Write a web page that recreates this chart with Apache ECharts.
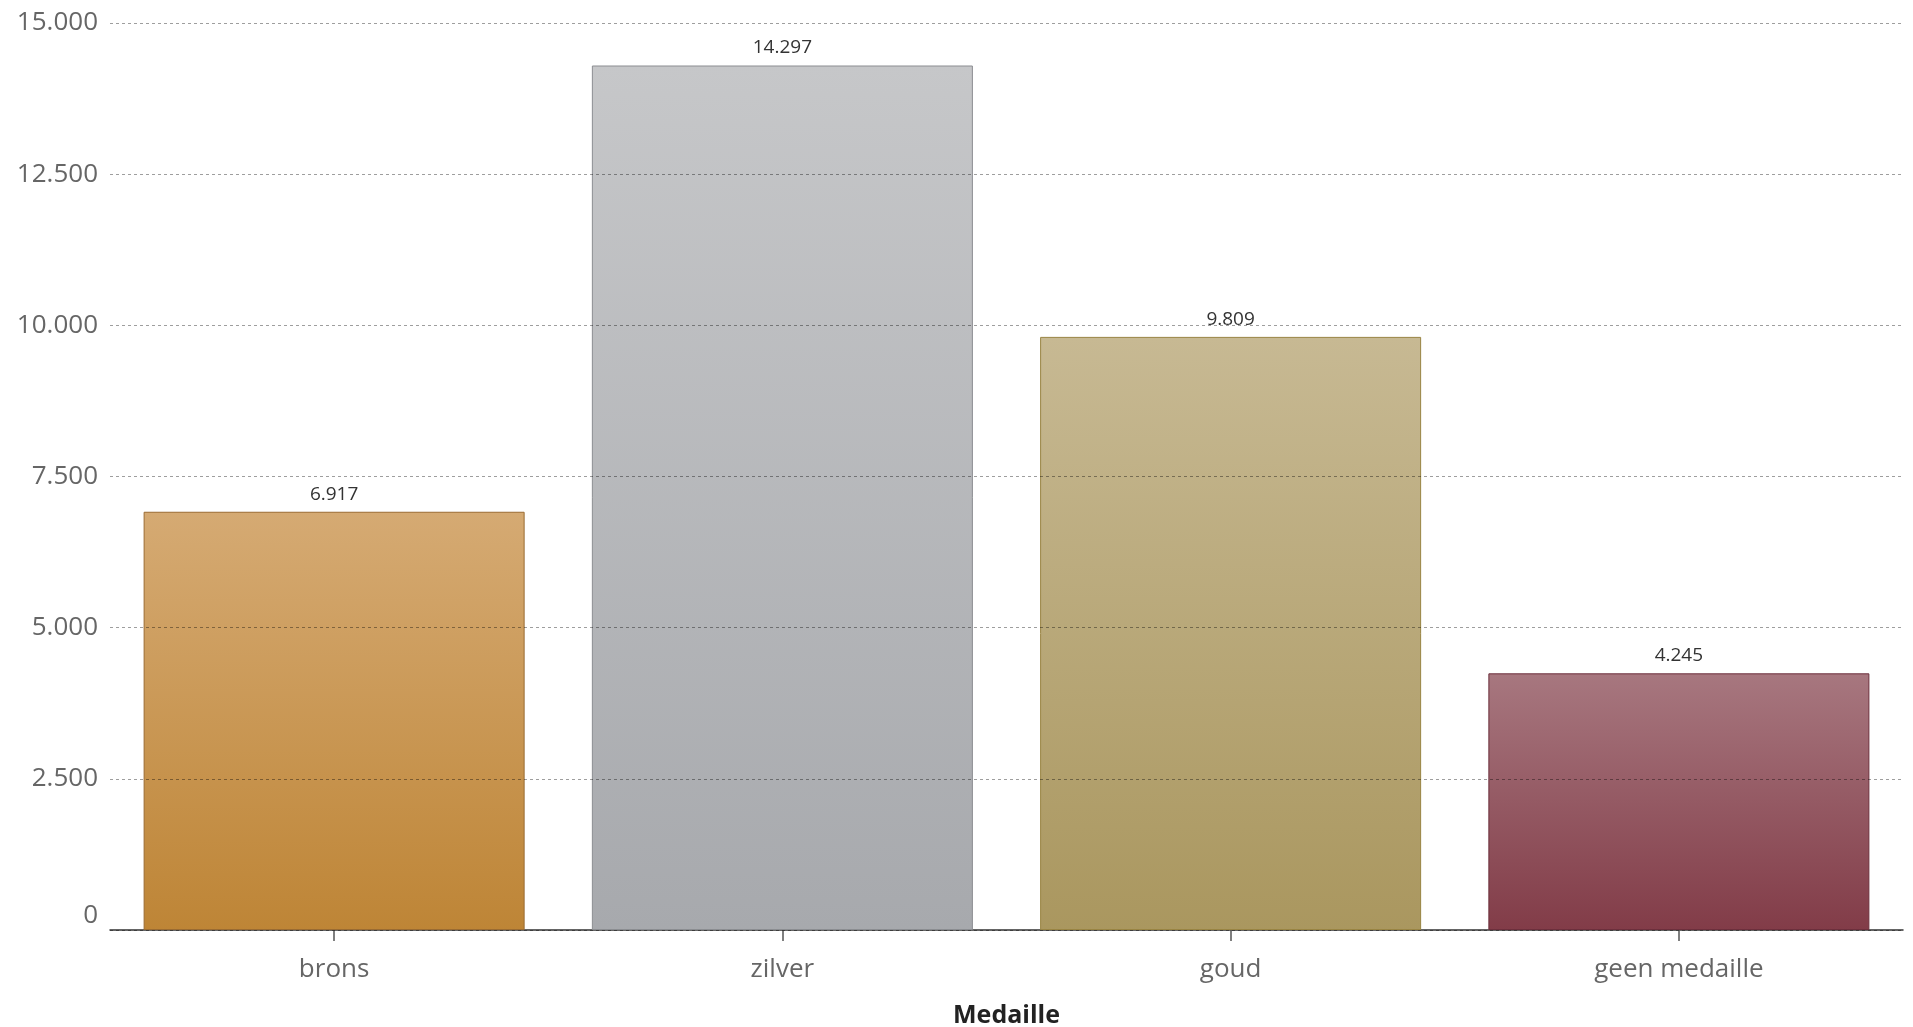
<!DOCTYPE html>
<html>
<head>
<meta charset="utf-8">
<script src="https://cdn.jsdelivr.net/npm/echarts@6/dist/echarts.min.js"></script>
<style>
html,body{margin:0;padding:0;background:#fff;}
#chart{width:1913px;height:1027px;}
</style>
</head>
<body>
<div id="chart"></div>
<script>
const categories = ['brons', 'zilver', 'goud', 'geen medaille'];
const values = [6917, 14297, 9809, 4245];
const yTicks = [0, 2500, 5000, 7500, 10000, 12500, 15000];
const xAxisName = 'Medaille';

const palette = [
  {top: '#d5aa73', bottom: '#be8536', border: '#9a6b32'},
  {top: '#c6c7c9', bottom: '#a7a9ad', border: '#8b8d91'},
  {top: '#c7b993', bottom: '#aa975f', border: '#998443'},
  {top: '#a7777f', bottom: '#823c48', border: '#6c2f3c'}
];

function fmt(v) {
  return String(v).replace(/\B(?=(\d{3})+(?!\d))/g, '.');
}

const chart = echarts.init(document.getElementById('chart'));
chart.setOption({
  animation: false,
  textStyle: {fontFamily: '"Open Sans", Lato, sans-serif'},
  grid: {left: 110, right: 10, top: 23, bottom: 97, containLabel: false, outerBoundsMode: 'none'},
  xAxis: {
    type: 'category',
    data: categories,
    name: xAxisName,
    nameLocation: 'middle',
    nameGap: 73,
    nameTextStyle: {fontSize: 25, fontWeight: 'bold', color: '#222'},
    axisLine: {show: true, lineStyle: {color: '#333', width: 1.5}},
    axisTick: {show: true, alignWithLabel: true, length: 11, lineStyle: {color: '#555', width: 1.5}},
    axisLabel: {fontSize: 26, color: '#666', margin: 27}
  },
  yAxis: {
    type: 'value',
    min: yTicks[0],
    max: yTicks[yTicks.length - 1],
    interval: yTicks[1] - yTicks[0],
    z: 3,
    axisLine: {show: false},
    axisTick: {show: false},
    splitLine: {lineStyle: {color: 'rgba(0,0,0,0.38)', type: [3, 3], width: 1}},
    axisLabel: {
      fontSize: 26, color: '#666', margin: 12,
      formatter: function (v) { return v === 0 ? '{z|0}' : fmt(v); },
      rich: {z: {fontSize: 26, color: '#666', padding: [0, 0, 28, 0]}}
    }
  },
  series: [{
    type: 'bar',
    barCategoryGap: '15%',
    data: values.map(function (v, i) {
      const p = palette[i];
      return {
        value: v,
        itemStyle: {
          color: new echarts.graphic.LinearGradient(0, 0, 0, 1, [
            {offset: 0, color: p.top}, {offset: 1, color: p.bottom}
          ]),
          borderColor: p.border,
          borderWidth: 1
        }
      };
    }),
    label: {
      show: true, position: 'top', distance: 8,
      fontSize: 19, color: '#333',
      formatter: function (p) { return fmt(p.value); }
    }
  }]
});
</script>
</body>
</html>
